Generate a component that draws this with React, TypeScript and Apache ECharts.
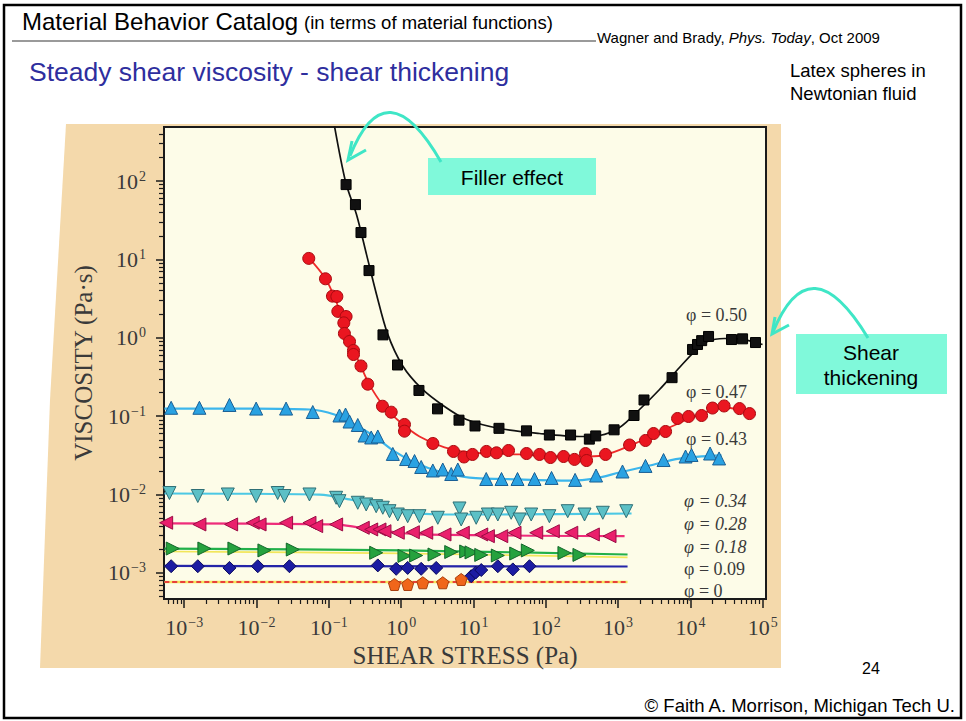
import React, { useEffect, useRef } from "react";
import * as echarts from "echarts";

// ---------- data (shear stress [Pa], viscosity [Pa·s]) ----------
const pts050 = [[0.173,90],[0.233,50],[0.278,22],[0.359,7.2],[0.56,1.09],[0.89,0.45],[1.76,0.213],[3.18,0.124],[6.3,0.089],[10.5,0.075],[22.5,0.07],[54,0.065],[112,0.0575],[220,0.0575],[400,0.051],[490,0.056],[880,0.067],[1660,0.102],[2280,0.161],[5570,0.31],[10700,0.71],[12530,0.822],[14300,0.92],[17800,1.04],[37000,0.95],[52600,0.97],[79400,0.87]];
const fit050 = [[0.112,705],[0.17,98],[0.241,37.4],[0.332,11.5],[0.456,3.57],[0.647,1.13],[1.04,0.444],[1.91,0.226],[3.97,0.133],[8.0,0.0908],[22.9,0.0697],[81.8,0.0601],[292,0.0551],[553,0.0567],[1045,0.0718],[1977,0.1217],[3740,0.219],[7060,0.418],[11380,0.668],[17200,0.897],[29600,0.98],[56000,0.95],[99300,0.82]];

const pts047 = [[0.0527,10.3],[0.0897,5.66],[0.112,3.4],[0.129,3.36],[0.133,2.17],[0.173,1.87],[0.161,1.55],[0.164,1.135],[0.193,0.897],[0.219,0.689],[0.219,0.612],[0.278,0.437],[0.345,0.256],[0.551,0.134],[0.728,0.1125],[1.11,0.0784],[1.11,0.0644],[2.74,0.0449],[5.29,0.0355],[7.39,0.0302],[9.69,0.0325],[15.1,0.0355],[20.8,0.0341],[30.5,0.0365],[54.1,0.0334],[81.8,0.0325],[116,0.0297],[176,0.0306],[249,0.0281],[354,0.0334],[366,0.0272],[670,0.0325],[1440,0.0429],[2390,0.049],[3090,0.0601],[4530,0.0638],[6640,0.0935],[9420,0.0991],[14260,0.102],[20200,0.127],[29200,0.135],[47800,0.125],[65600,0.108]];
const fit047 = [[0.0522,10.6],[0.0897,5.71],[0.123,3.08],[0.164,1.48],[0.206,0.822],[0.274,0.443],[0.364,0.253],[0.551,0.141],[0.947,0.0855],[1.79,0.0551],[3.97,0.0399],[8.8,0.0344],[43.3,0.0325],[155,0.0306],[402,0.0306],[760,0.0334],[1980,0.0475],[5140,0.0718],[13370,0.105],[29600,0.129],[65600,0.111]];

const pts043 = [[0.000659,0.128],[0.00162,0.128],[0.00422,0.139],[0.00987,0.125],[0.0256,0.125],[0.0599,0.113],[0.14,0.102],[0.17,0.105],[0.193,0.0855],[0.251,0.0772],[0.311,0.0567],[0.385,0.0535],[0.475,0.0551],[0.766,0.033],[1.17,0.0284],[1.53,0.0268],[1.89,0.0225],[2.74,0.0203],[3.76,0.0209],[4.92,0.0183],[6.07,0.0209],[15.0,0.0158],[24.4,0.0158],[40.6,0.0158],[69.8,0.0158],[120,0.0163],[254,0.0154],[495,0.0175],[1150,0.0197],[2390,0.0232],[4250,0.0276],[8560,0.0306],[10350,0.032],[18700,0.0334],[24900,0.0289]];
const fit043 = [[0.000532,0.125],[0.00797,0.125],[0.0539,0.1217],[0.1195,0.105],[0.226,0.0783],[0.428,0.0551],[0.808,0.0355],[1.53,0.0257],[3.39,0.0197],[8.8,0.0165],[43.3,0.0156],[213,0.0151],[472,0.016],[1045,0.0191],[2720,0.0235],[7060,0.0288],[26900,0.0316]];

const pts034 = [[0.000624,0.01047],[0.00154,0.00959],[0.004,0.01003],[0.00987,0.00959],[0.0196,0.01047],[0.0243,0.00959],[0.0539,0.01003],[0.126,0.0091],[0.14,0.00824],[0.251,0.00786],[0.328,0.00748],[0.451,0.00711],[0.557,0.00679],[0.689,0.00614],[0.897,0.00557],[1.23,0.0053],[1.79,0.0053],[3.21,0.00506],[6.4,0.00665],[6.76,0.00481],[10.9,0.00506],[15.8,0.00557],[21.7,0.00557],[33.2,0.00586],[43.3,0.00481],[62.8,0.00557],[112,0.0053],[201,0.00614],[343,0.00557],[614,0.00586],[1295,0.00614]];
const fit034 = [[0.000532,0.01033],[0.0741,0.01],[0.193,0.00867],[0.501,0.00706],[1.3,0.00592],[3.39,0.00557],[22.9,0.00557],[1534,0.00574]];

const pts028 = [[0.000562,0.00437],[0.00162,0.00416],[0.00445,0.00416],[0.00886,0.00437],[0.011,0.00416],[0.0256,0.00437],[0.0539,0.00437],[0.0668,0.00396],[0.126,0.00416],[0.294,0.00377],[0.385,0.00359],[0.501,0.00359],[0.587,0.00341],[0.897,0.00326],[1.45,0.00331],[2.22,0.00326],[3.97,0.0031],[7.11,0.00326],[12.8,0.0031],[15.8,0.00295],[24.2,0.00295],[36.9,0.00326],[73.7,0.00326],[125,0.00341],[225,0.00326],[447,0.0031],[760,0.00295]];
const fit028 = [[0.000532,0.00428],[0.1195,0.00416],[0.265,0.0038],[0.689,0.00338],[1.79,0.0031],[1228,0.00296]];

const pts018 = [[0.000693,0.00205],[0.0019,0.00205],[0.00494,0.00205],[0.01285,0.00194],[0.0317,0.00199],[0.451,0.00181],[1.11,0.00165],[1.61,0.00167],[2.89,0.00172],[4.92,0.00185],[7.93,0.00188],[9.38,0.00183],[12.8,0.0017],[21.7,0.00167],[39.0,0.00177],[56.4,0.00194],[181,0.0018],[292,0.0017]];
const fit018 = [[0.000532,0.00205],[1.0,0.00194],[1350,0.00172]];
const fit018b = [[0.000532,0.00188],[1.0,0.00178],[1350,0.00158]];

const pts009 = [[0.000659,0.00122],[0.00154,0.00122],[0.00422,0.00116],[0.0104,0.00122],[0.0285,0.00122],[0.475,0.00125],[0.853,0.00113],[1.23,0.00116],[1.89,0.00113],[3.05,0.00116],[9.3,0.00091],[10.7,0.00101],[12.8,0.00109],[21.7,0.00122],[35.0,0.00111],[59.5,0.00122]];
const fit009 = [[0.000532,0.00123],[1350,0.00121]];

const pts000 = [[0.808,0.000713],[1.23,0.000713],[1.99,0.00075],[3.76,0.00075],[6.76,0.000826]];
const fit000 = [[0.000532,0.000767],[1350,0.000767]];

const xMajor = [1e-3, 1e-2, 1e-1, 1, 10, 100, 1e3, 1e4, 1e5];
const yMajor = [1e-3, 1e-2, 1e-1, 1, 10, 100];
const phiLabels = ["φ = 0.50", "φ = 0.47", "φ = 0.43", "φ = 0.34", "φ = 0.28", "φ = 0.18", "φ = 0.09", "φ = 0"];

// ---------- layout ----------
const X_MIN = Math.pow(10, -3.28);
const X_MAX = Math.pow(10, 5.045);
const Y_MIN = Math.pow(10, -3.332);
const Y_MAX = Math.pow(10, 2.689);

const SANS = '"Liberation Sans", Arial, sans-serif';
const SERIF = '"Liberation Serif", "Times New Roman", serif';
const AXC = "#3a3a3a";

function minorTicks(min: number, max: number): number[] {
  const out: number[] = [];
  for (let e = -5; e <= 6; e++) {
    for (let m = 2; m <= 9; m++) {
      const v = m * Math.pow(10, e);
      if (v > min && v < max) out.push(v);
    }
  }
  return out;
}

function powLabel(v: number): string {
  const e = Math.round(Math.log10(v));
  const s = e < 0 ? "\u2212" + -e : String(e);
  return "{b|10}{s|" + s + "}";
}

const labelRich = {
  b: { fontFamily: SERIF, fontSize: 22, color: AXC, lineHeight: 24 },
  s: { fontFamily: SERIF, fontSize: 14, color: AXC, verticalAlign: "top", lineHeight: 14, padding: [0, 0, 0, 1] },
};

function txt(text: string, x: number, y: number, font: string, fill: string, align = "left", z = 40) {
  return {
    type: "text",
    x,
    y,
    z,
    silent: true,
    style: {
      text,
      font,
      fill,
      align,
      textAlign: align,
      verticalAlign: "middle",
      textVerticalAlign: "middle",
    },
  };
}

const TEAL = "#3fe6c6";

function lineSeries(data: number[][], color: string, width: number) {
  return {
    type: "line",
    data,
    symbol: "none",
    showSymbol: false,
    smooth: 0.3,
    silent: true,
    z: 2,
    lineStyle: { color, width },
  };
}

function scatterSeries(data: number[][], symbol: string, size: number, fill: string, border: string, rotate = 0) {
  return {
    type: "scatter",
    data,
    symbol,
    symbolSize: size,
    symbolRotate: rotate,
    silent: true,
    z: 3,
    itemStyle: { color: fill, borderColor: border, borderWidth: 1, opacity: 1 },
  };
}

const PENTAGON = "path://M0,-10 L9.51,-3.09 L5.88,8.09 L-5.88,8.09 L-9.51,-3.09 Z";

const option: any = {
  animation: false,
  backgroundColor: "#ffffff",
  grid: {
    left: 164,
    top: 127,
    width: 602,
    height: 472,
    show: true,
    backgroundColor: "#fdfce8",
    borderColor: "#1a1a1a",
    borderWidth: 2,
    containLabel: false,
    outerBoundsMode: "none",
  },
  xAxis: [
    {
      type: "log",
      logBase: 10,
      min: X_MIN,
      max: X_MAX,
      position: "bottom",
      axisLine: { show: true, lineStyle: { color: "#1a1a1a", width: 2 } },
      axisTick: { show: true, inside: false, length: 9, customValues: xMajor, lineStyle: { color: "#1a1a1a", width: 1.5 } },
      minorTick: { show: false },
      axisLabel: { show: true, customValues: xMajor, formatter: powLabel, rich: labelRich, margin: 16 },
      splitLine: { show: false },
      name: "SHEAR STRESS (Pa)",
      nameLocation: "middle",
      nameGap: 44,
      nameTextStyle: { fontFamily: SERIF, fontSize: 25, color: AXC },
    },
    {
      type: "log",
      logBase: 10,
      min: X_MIN,
      max: X_MAX,
      position: "bottom",
      offset: 0,
      axisLine: { show: false },
      axisTick: { show: true, inside: false, length: 5, customValues: minorTicks(X_MIN, X_MAX), lineStyle: { color: "#1a1a1a", width: 1.2 } },
      axisLabel: { show: false },
      splitLine: { show: false },
    },
  ],
  yAxis: [
    {
      type: "log",
      logBase: 10,
      min: Y_MIN,
      max: Y_MAX,
      position: "left",
      axisLine: { show: true, lineStyle: { color: "#1a1a1a", width: 2 } },
      axisTick: { show: true, inside: false, length: 8, customValues: yMajor, lineStyle: { color: "#1a1a1a", width: 1.5 } },
      axisLabel: { show: true, customValues: yMajor, formatter: powLabel, rich: labelRich, margin: 18, align: "right" },
      splitLine: { show: false },
      name: "VISCOSITY (Pa\u00b7s)",
      nameLocation: "middle",
      nameGap: 68,
      nameTextStyle: { fontFamily: SERIF, fontSize: 25, color: AXC },
    },
    {
      type: "log",
      logBase: 10,
      min: Y_MIN,
      max: Y_MAX,
      position: "left",
      offset: 0,
      axisLine: { show: false },
      axisTick: { show: true, inside: false, length: 5, customValues: minorTicks(Y_MIN, Y_MAX), lineStyle: { color: "#1a1a1a", width: 1.2 } },
      axisLabel: { show: false },
      splitLine: { show: false },
    },
  ],
  series: [
    lineSeries(fit050, "#111111", 1.7),
    lineSeries(fit047, "#ee2a2a", 1.8),
    lineSeries(fit043, "#3cb6ec", 2.2),
    lineSeries(fit034, "#4cc8e4", 2.2),
    lineSeries(fit028, "#ee2c7a", 2.2),
    lineSeries(fit018b, "#f2e65a", 1.6),
    lineSeries(fit018, "#22b04a", 2.2),
    lineSeries(fit009, "#2424a8", 2.2),
    lineSeries(fit000, "#f3e65a", 2.4),
    { ...lineSeries(fit000, "#e8403a", 1.8), lineStyle: { color: "#e8403a", width: 1.8, type: [5, 3] } },
    scatterSeries(pts050, "rect", 10, "#111111", "#000000"),
    scatterSeries(pts047, "circle", 12, "#ea1620", "#a80a10"),
    scatterSeries(pts043, "triangle", 13, "#2aa2e2", "#1a5f94"),
    scatterSeries(pts034, "triangle", 13, "#5cc0c6", "#2f6f76", 180),
    scatterSeries(pts028, "triangle", 13, "#ea1f6c", "#9a0c44", 90),
    scatterSeries(pts018, "triangle", 13, "#26a23e", "#12662a", -90),
    scatterSeries(pts009, "diamond", 13, "#1c1ca2", "#0a0a5c"),
    scatterSeries(pts000, PENTAGON, 12, "#f0661a", "#a8400e"),
  ],
  graphic: [
    {
      type: "polygon",
      z: -10,
      silent: true,
      shape: { points: [[66, 124], [781, 124], [781, 668], [40, 668], [50, 400]] },
      style: { fill: "#f4d9ab" },
    },
    { type: "rect", z: 50, silent: true, shape: { x: 4, y: 5, width: 957, height: 713 }, style: { fill: "none", stroke: "#000", lineWidth: 2.5 } },
    { type: "line", z: 40, silent: true, shape: { x1: 12, y1: 41, x2: 596, y2: 41 }, style: { stroke: "#9a9a9a", lineWidth: 2 } },
    txt("Material Behavior Catalog", 22, 21, "24px " + SANS, "#000"),
    txt("(in terms of material functions)", 304, 22, "18.5px " + SANS, "#000"),
    {
      type: "text",
      x: 597,
      y: 37,
      z: 40,
      silent: true,
      style: {
        rich: {
          n: { font: "15px " + SANS, fill: "#000", color: "#000" },
          i: { font: "italic 15px " + SANS, fill: "#000", color: "#000" },
        },
        text: "{n|Wagner and Brady, }{i|Phys. Today}{n|, Oct 2009}",
        align: "left",
        textAlign: "left",
        verticalAlign: "middle",
        textVerticalAlign: "middle",
      },
    },
    txt("Steady shear viscosity - shear thickening", 29, 72, "26.5px " + SANS, "#2e2e9e"),
    txt("Latex spheres in", 790, 70, "18.5px " + SANS, "#000"),
    txt("Newtonian fluid", 790, 93, "18.5px " + SANS, "#000"),
    txt("24", 871, 668, "16px " + SANS, "#000", "center"),
    txt("\u00a9 Faith A. Morrison, Michigan Tech U.", 955, 705, "18.5px " + SANS, "#000", "right"),
    // phi labels
    txt(phiLabels[0], 686, 315, "18px " + SERIF, AXC),
    txt(phiLabels[1], 686, 392, "18px " + SERIF, AXC),
    txt(phiLabels[2], 686, 439, "18px " + SERIF, AXC),
    txt(phiLabels[3], 684, 501, "italic 18px " + SERIF, AXC),
    txt(phiLabels[4], 684, 524, "italic 18px " + SERIF, AXC),
    txt(phiLabels[5], 684, 547, "italic 18px " + SERIF, AXC),
    txt(phiLabels[6], 684, 569, "18px " + SERIF, AXC),
    txt(phiLabels[7], 684, 591, "18px " + SERIF, AXC),
    // annotation: filler effect
    { type: "rect", z: 60, silent: true, shape: { x: 428, y: 158, width: 168, height: 37 }, style: { fill: "#80f9da" } },
    txt("Filler effect", 512, 177, "21px " + SANS, "#000", "center", 70),
    { type: "bezierCurve", z: 61, silent: true, shape: { x1: 441, y1: 162, x2: 350, y2: 156, cpx1: 386, cpy1: 66 }, style: { stroke: TEAL, lineWidth: 3, fill: "none" } },
    { type: "polyline", z: 61, silent: true, shape: { points: [[352, 141], [348, 160], [366, 150]] }, style: { stroke: TEAL, lineWidth: 3, fill: "none" } },
    // annotation: shear thickening
    { type: "rect", z: 60, silent: true, shape: { x: 796, y: 334, width: 151, height: 60 }, style: { fill: "#80f9da" } },
    txt("Shear", 871, 352, "21px " + SANS, "#000", "center", 70),
    txt("thickening", 871, 377, "21px " + SANS, "#000", "center", 70),
    { type: "bezierCurve", z: 61, silent: true, shape: { x1: 868, y1: 338, x2: 773, y2: 332, cpx1: 810, cpy1: 242 }, style: { stroke: TEAL, lineWidth: 3, fill: "none" } },
    { type: "polyline", z: 61, silent: true, shape: { points: [[775, 317], [772, 334], [789, 325]] }, style: { stroke: TEAL, lineWidth: 3, fill: "none" } },
  ],
};

export default function App() {
  const ref = useRef<HTMLDivElement>(null);
  useEffect(() => {
    if (!ref.current) return;
    const chart = echarts.init(ref.current, null, { renderer: "svg", width: 966, height: 721 });
    chart.setOption(option);
    return () => chart.dispose();
  }, []);
  return (
    <div
      ref={ref}
      style={{ position: "fixed", left: 0, top: 0, width: 966, height: 721, background: "#fff" }}
    />
  );
}
